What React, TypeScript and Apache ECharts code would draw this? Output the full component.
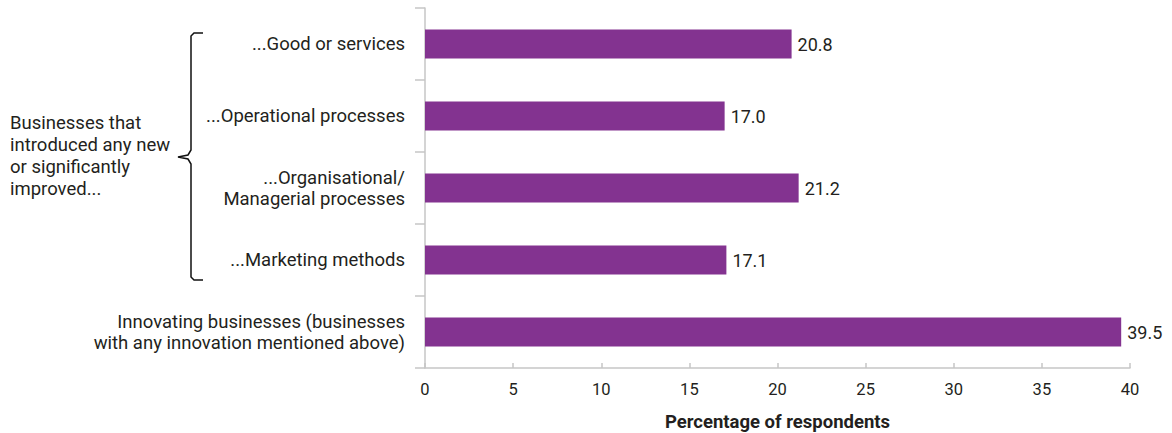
import React, { useEffect, useRef } from "react";
import * as echarts from "echarts";

const categories = [
  "...Good or services",
  "...Operational processes",
  "...Organisational/\nManagerial processes",
  "...Marketing methods",
  "Innovating businesses (businesses\nwith any innovation mentioned above)",
];
const values = [20.8, 17.0, 21.2, 17.1, 39.5];
const axisName = "Percentage of respondents";
const groupLabel = "Businesses that\nintroduced any new\nor significantly\nimproved...";

const FONT = "Roboto";
const TEXT = "#231f20";
const AXIS = "#c6c6c6";

export default function App() {
  const ref = useRef<HTMLDivElement>(null);
  useEffect(() => {
    document.body.style.margin = "0";
    document.documentElement.style.overflow = "hidden";
    const chart = echarts.init(ref.current!, null, { renderer: "svg" });
    chart.setOption({
      animation: false,
      textStyle: { fontFamily: FONT },
      grid: {
        left: 425,
        right: 42,
        top: 8,
        bottom: 65,
        containLabel: false,
        outerBoundsMode: "none",
      },
      xAxis: {
        type: "value",
        min: 0,
        max: 40,
        interval: 5,
        name: axisName,
        nameLocation: "middle",
        nameGap: 44,
        nameTextStyle: { fontFamily: FONT, fontSize: 18.5, fontWeight: "bold", color: TEXT },
        axisLine: { show: true, lineStyle: { color: AXIS, width: 1.5 } },
        axisTick: { show: true, inside: true, length: 5, lineStyle: { color: AXIS, width: 1.5 } },
        axisLabel: { fontFamily: FONT, fontSize: 16.5, color: TEXT, margin: 13 },
        splitLine: { show: false },
      },
      yAxis: {
        type: "category",
        data: categories,
        inverse: true,
        axisLine: { show: true, lineStyle: { color: AXIS, width: 1.5 } },
        axisTick: { show: true, length: 10, lineStyle: { color: AXIS, width: 1.5 } },
        axisLabel: {
          fontFamily: FONT,
          fontSize: 18.5,
          color: TEXT,
          margin: 20,
          align: "right",
          lineHeight: 21,
        },
      },
      series: [
        {
          type: "bar",
          data: values,
          barWidth: 29,
          itemStyle: { color: "#833390" },
          label: {
            show: true,
            position: "right",
            distance: 6,
            fontFamily: FONT,
            fontSize: 18,
            color: TEXT,
            formatter: (p: any) => Number(p.value).toFixed(1),
          },
        },
      ],
      graphic: [
        {
          type: "polyline",
          shape: {
            points: [
              [203, 33],
              [194, 33],
              [191, 36],
              [191, 150],
              [188, 155],
              [178, 157],
              [188, 159],
              [191, 164],
              [191, 277],
              [194, 280],
              [203, 280],
            ],
          },
          style: { stroke: "#111", lineWidth: 1.5, fill: "none" },
        },
        {
          type: "text",
          left: 10,
          top: 112,
          style: {
            text: groupLabel,
            fontFamily: FONT,
            fontSize: 18.5,
            lineHeight: 22,
            fill: TEXT,
          },
        },
      ],
    });
    return () => chart.dispose();
  }, []);
  return (
    <div
      ref={ref}
      style={{ position: "absolute", left: 0, top: 0, width: 1172, height: 433 }}
    />
  );
}
